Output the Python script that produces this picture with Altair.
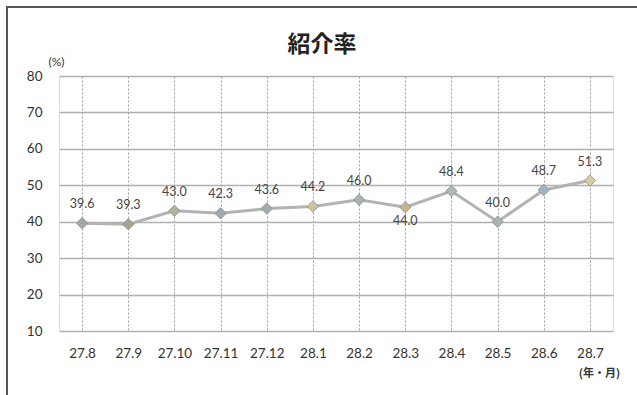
import altair as alt
import pandas as pd

months = ["27.8", "27.9", "27.10", "27.11", "27.12", "28.1", "28.2", "28.3", "28.4", "28.5", "28.6", "28.7"]
rates = [39.6, 39.3, 43.0, 42.3, 43.6, 44.2, 46.0, 44.0, 48.4, 40.0, 48.7, 51.3]
below_labels = ["28.3"]
title_text = "紹介率"

marker_colors = ["#9ea9ab", "#aaa28f", "#b1b297", "#a0a9ad", "#a2adb1", "#cbc39f",
                 "#a9b1b1", "#c9b08f", "#afb8a9", "#a8b4b8", "#9db5c1", "#d9c99f"]

df = pd.DataFrame({"month": months, "rate": rates})
df["label"] = df["rate"].map(lambda v: f"{v:.1f}")

FONT = "Lato"

x = alt.X("month:N", sort=months,
          scale=alt.Scale(paddingInner=0, paddingOuter=0),
          axis=alt.Axis(title="(年・月)", titleAngle=0, titleX=540, titleY=47,
                        titleAlign="center", titleBaseline="bottom",
                        titleFontSize=11, titleFontWeight="bold", titleColor="#333",
                        titleFont="Noto Sans CJK JP",
                        labelAngle=0, labelFontSize=13.5, labelColor="#333", labelFont=FONT,
                        labelPadding=15, ticks=False, domain=False,
                        grid=True, bandPosition=0, gridColor="#9a9a9a",
                        gridDash=[2, 2], gridWidth=1))
y = alt.Y("rate:Q",
          scale=alt.Scale(domain=[10, 80], nice=False, zero=False),
          axis=alt.Axis(title="(%)", titleAngle=0, titleX=-3, titleY=-8,
                        titleAlign="center", titleBaseline="bottom",
                        titleFontSize=12, titleFontWeight="normal", titleColor="#333",
                        titleFont=FONT,
                        values=list(range(10, 81, 10)), labelFontSize=13.5, labelColor="#333",
                        labelFont=FONT, labelPadding=17, ticks=False, domain=False,
                        grid=True, gridColor="#b0b0b0", gridWidth=1.4))

base = alt.Chart(df)

line = base.mark_line(color="#b3b3b3", strokeWidth=3).encode(x=x, y=y)

points = base.mark_point(shape="diamond", filled=True, size=130, opacity=1,
                         stroke="#8a8f90", strokeWidth=0.8).encode(
    x=x, y=y,
    color=alt.Color("month:N", sort=months,
                    scale=alt.Scale(domain=months, range=marker_colors), legend=None))

labels_above = base.transform_filter(
    ~alt.FieldOneOfPredicate(field="month", oneOf=below_labels)
).mark_text(dy=-19, fontSize=12.5, color="#444", font=FONT).encode(x=x, y=y, text="label:N")

labels_below = base.transform_filter(
    alt.FieldOneOfPredicate(field="month", oneOf=below_labels)
).mark_text(dy=14, fontSize=12.5, color="#444", font=FONT).encode(x=x, y=y, text="label:N")

frame = alt.Chart(pd.DataFrame({"a": [0]})).mark_rect(
    fill=None, stroke="#555555", strokeWidth=2).encode(
    x=alt.value(-52), x2=alt.value(700), y=alt.value(-69), y2=alt.value(400))

title = alt.Chart(pd.DataFrame({"t": [title_text]})).mark_text(
    font="Noto Sans CJK JP", fontSize=23, fontWeight="bold", color="#222",
    align="center", baseline="middle").encode(
    text="t:N", x=alt.value(263), y=alt.value(-31))

chart = alt.layer(frame, line, points, labels_above, labels_below, title).properties(
    width=554, height=255,
    autosize=alt.AutoSizeParams(type="none"),
    padding={"left": 59, "top": 76, "right": 24, "bottom": 64},
).configure_view(stroke="#9a9a9a", strokeDash=[2, 2], strokeWidth=1).configure(
    background="white")

chart.save("out.html", embed_options={"renderer": "svg", "actions": False})
